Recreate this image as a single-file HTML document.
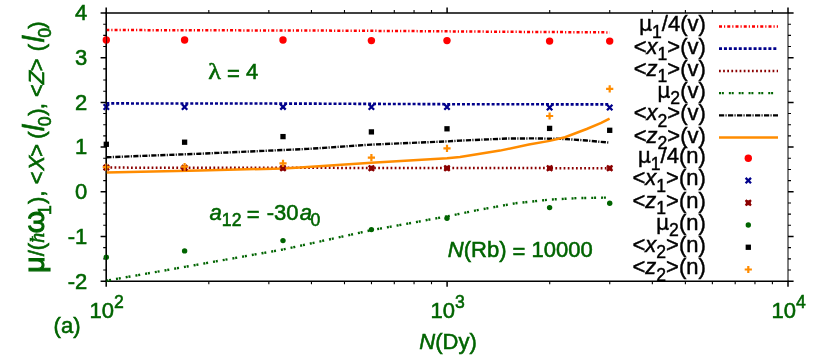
<!DOCTYPE html>
<html lang="en"><head><meta charset="utf-8"><title>Fig (a)</title>
<style>
html,body{margin:0;padding:0;background:#fff;}
body{width:830px;height:356px;overflow:hidden;}
svg{display:block;will-change:transform;}
text{font-family:"Liberation Sans",sans-serif;font-size:22px;}
.g{fill:#006400;stroke:#006400;stroke-width:0.55px;}
.k{fill:#000;stroke:#000;stroke-width:0.45px;}
.i{font-style:italic;}
.b{font-weight:bold;}
.h{stroke-width:1.1px;}
.yl{stroke-width:0.6px;}
.sym{font-family:"Liberation Serif","DejaVu Serif",serif;}
.dv{font-family:"DejaVu Sans","Liberation Sans",sans-serif;}
.dvs{font-family:"DejaVu Serif","Liberation Serif",serif;}
</style></head><body>
<svg width="830" height="356" viewBox="0 0 830 356">
<rect width="830" height="356" fill="#fff"/>
<g id="axes" fill="none" stroke="#000">
<path d="M105.40 13.00H788.50" stroke-width="1.6"/>
<path d="M105.40 281.20H788.50" stroke-width="1.6"/>
<path d="M106.20 13.00V281.20" stroke-width="1.6"/>
<path d="M788.00 13.00V281.20" stroke-width="1.0"/>
<path d="M106.20 281.20L100.60 281.20M788.00 281.20L793.60 281.20M106.20 236.50L100.60 236.50M788.00 236.50L793.60 236.50M106.20 191.80L100.60 191.80M788.00 191.80L793.60 191.80M106.20 147.10L100.60 147.10M788.00 147.10L793.60 147.10M106.20 102.40L100.60 102.40M788.00 102.40L793.60 102.40M106.20 57.70L100.60 57.70M788.00 57.70L793.60 57.70M106.20 13.00L100.60 13.00M788.00 13.00L793.60 13.00M106.20 281.20L106.20 286.80M106.20 13.00L106.20 7.40M447.10 281.20L447.10 286.80M447.10 13.00L447.10 7.40M788.00 281.20L788.00 286.80M788.00 13.00L788.00 7.40" stroke-width="1.5"/>
<path d="M106.20 270.02L103.20 270.02M788.00 270.02L791.00 270.02M106.20 258.85L103.20 258.85M788.00 258.85L791.00 258.85M106.20 247.67L103.20 247.67M788.00 247.67L791.00 247.67M106.20 225.32L103.20 225.32M788.00 225.32L791.00 225.32M106.20 214.15L103.20 214.15M788.00 214.15L791.00 214.15M106.20 202.97L103.20 202.97M788.00 202.97L791.00 202.97M106.20 180.62L103.20 180.62M788.00 180.62L791.00 180.62M106.20 169.45L103.20 169.45M788.00 169.45L791.00 169.45M106.20 158.27L103.20 158.27M788.00 158.27L791.00 158.27M106.20 135.92L103.20 135.92M788.00 135.92L791.00 135.92M106.20 124.75L103.20 124.75M788.00 124.75L791.00 124.75M106.20 113.57L103.20 113.57M788.00 113.57L791.00 113.57M106.20 91.22L103.20 91.22M788.00 91.22L791.00 91.22M106.20 80.05L103.20 80.05M788.00 80.05L791.00 80.05M106.20 68.87L103.20 68.87M788.00 68.87L791.00 68.87M106.20 46.53L103.20 46.53M788.00 46.53L791.00 46.53M106.20 35.35L103.20 35.35M788.00 35.35L791.00 35.35M106.20 24.18L103.20 24.18M788.00 24.18L791.00 24.18M208.82 281.20L208.82 284.20M208.82 13.00L208.82 10.00M268.85 281.20L268.85 284.20M268.85 13.00L268.85 10.00M311.44 281.20L311.44 284.20M311.44 13.00L311.44 10.00M344.48 281.20L344.48 284.20M344.48 13.00L344.48 10.00M371.47 281.20L371.47 284.20M371.47 13.00L371.47 10.00M394.29 281.20L394.29 284.20M394.29 13.00L394.29 10.00M414.06 281.20L414.06 284.20M414.06 13.00L414.06 10.00M431.50 281.20L431.50 284.20M431.50 13.00L431.50 10.00M549.72 281.20L549.72 284.20M549.72 13.00L549.72 10.00M609.75 281.20L609.75 284.20M609.75 13.00L609.75 10.00M652.34 281.20L652.34 284.20M652.34 13.00L652.34 10.00M685.38 281.20L685.38 284.20M685.38 13.00L685.38 10.00M712.37 281.20L712.37 284.20M712.37 13.00L712.37 10.00M735.19 281.20L735.19 284.20M735.19 13.00L735.19 10.00M754.96 281.20L754.96 284.20M754.96 13.00L754.96 10.00M772.40 281.20L772.40 284.20M772.40 13.00L772.40 10.00" stroke-width="1.1"/>
</g>
<g id="plot">
<path d="M106.3 30.0L200.0 30.3L308.0 30.5L400.0 31.0L508.0 31.8L609.7 32.4" fill="none" stroke="#ff0000" stroke-width="2.50" stroke-dasharray="3.0 2.0 1.2 2.05"/>
<path d="M106.3 103.4L300.0 103.6L450.0 104.2L609.0 104.4" fill="none" stroke="#00008b" stroke-width="2.60" stroke-dasharray="3.0 1.94"/>
<path d="M106.3 167.6L609.7 168.2" fill="none" stroke="#8b0000" stroke-width="2.50" stroke-dasharray="1.75 2.37"/>
<path d="M106.3 280.7L184.7 266.9L283.0 249.5L300.0 245.8L371.4 230.2L447.0 216.4L477.6 210.1L515.2 203.3L549.5 199.6L577.8 198.1L606.7 197.6" fill="none" stroke="#006400" stroke-width="2.40" stroke-dasharray="2.0 0.85 2.0 5.0"/>
<path d="M106.3 157.3L200.0 153.7L308.0 148.9L371.4 144.6L447.0 141.4L460.0 140.6L508.0 138.5L535.0 138.4L549.6 138.7L565.0 139.0L586.7 140.5L609.0 142.6" fill="none" stroke="#000000" stroke-width="2.40" stroke-dasharray="5.2 1.3 1.1 1.4"/>
<path d="M106.3 172.4L200.0 170.6L283.0 168.4L300.0 167.4L371.4 162.7L447.0 158.2L460.0 157.0L477.0 154.3L500.0 150.6L528.9 144.5L549.6 140.9L565.0 137.2L586.7 129.0L601.2 122.9L609.6 118.6" fill="none" stroke="#ff8c00" stroke-width="2.50"/>
<circle cx="106.3" cy="40.0" r="3.70" fill="#ff0000"/>
<circle cx="184.6" cy="40.0" r="3.70" fill="#ff0000"/>
<circle cx="283.0" cy="40.0" r="3.70" fill="#ff0000"/>
<circle cx="371.4" cy="40.6" r="3.70" fill="#ff0000"/>
<circle cx="447.0" cy="40.6" r="3.70" fill="#ff0000"/>
<circle cx="549.6" cy="41.1" r="3.70" fill="#ff0000"/>
<circle cx="609.7" cy="41.1" r="3.70" fill="#ff0000"/>
<path d="M103.60 104.30L109.00 109.70M103.60 109.70L109.00 104.30" stroke="#00008b" stroke-width="2.30" fill="none"/>
<path d="M181.90 104.30L187.30 109.70M181.90 109.70L187.30 104.30" stroke="#00008b" stroke-width="2.30" fill="none"/>
<path d="M280.30 104.20L285.70 109.60M280.30 109.60L285.70 104.20" stroke="#00008b" stroke-width="2.30" fill="none"/>
<path d="M368.70 104.30L374.10 109.70M368.70 109.70L374.10 104.30" stroke="#00008b" stroke-width="2.30" fill="none"/>
<path d="M444.30 104.30L449.70 109.70M444.30 109.70L449.70 104.30" stroke="#00008b" stroke-width="2.30" fill="none"/>
<path d="M546.90 104.80L552.30 110.20M546.90 110.20L552.30 104.80" stroke="#00008b" stroke-width="2.30" fill="none"/>
<path d="M607.00 104.80L612.40 110.20M607.00 110.20L612.40 104.80" stroke="#00008b" stroke-width="2.30" fill="none"/>
<rect x="103.80" y="165.10" width="5.00" height="5.00" fill="#8b0000"/>
<path d="M103.60 164.90L109.00 170.30M103.60 170.30L109.00 164.90" stroke="#8b0000" stroke-width="2.30" fill="none"/>
<rect x="182.10" y="165.30" width="5.00" height="5.00" fill="#8b0000"/>
<path d="M181.90 165.10L187.30 170.50M181.90 170.50L187.30 165.10" stroke="#8b0000" stroke-width="2.30" fill="none"/>
<rect x="280.50" y="165.70" width="5.00" height="5.00" fill="#8b0000"/>
<path d="M280.30 165.50L285.70 170.90M280.30 170.90L285.70 165.50" stroke="#8b0000" stroke-width="2.30" fill="none"/>
<rect x="368.90" y="165.70" width="5.00" height="5.00" fill="#8b0000"/>
<path d="M368.70 165.50L374.10 170.90M368.70 170.90L374.10 165.50" stroke="#8b0000" stroke-width="2.30" fill="none"/>
<rect x="444.50" y="165.70" width="5.00" height="5.00" fill="#8b0000"/>
<path d="M444.30 165.50L449.70 170.90M444.30 170.90L449.70 165.50" stroke="#8b0000" stroke-width="2.30" fill="none"/>
<rect x="547.10" y="165.70" width="5.00" height="5.00" fill="#8b0000"/>
<path d="M546.90 165.50L552.30 170.90M546.90 170.90L552.30 165.50" stroke="#8b0000" stroke-width="2.30" fill="none"/>
<rect x="607.20" y="165.70" width="5.00" height="5.00" fill="#8b0000"/>
<path d="M607.00 165.50L612.40 170.90M607.00 170.90L612.40 165.50" stroke="#8b0000" stroke-width="2.30" fill="none"/>
<circle cx="106.3" cy="257.2" r="2.70" fill="#006400"/>
<circle cx="184.6" cy="250.9" r="2.70" fill="#006400"/>
<circle cx="283.0" cy="240.6" r="2.70" fill="#006400"/>
<circle cx="371.4" cy="229.6" r="2.70" fill="#006400"/>
<circle cx="447.0" cy="218.2" r="2.70" fill="#006400"/>
<circle cx="549.6" cy="207.6" r="2.70" fill="#006400"/>
<circle cx="609.7" cy="203.3" r="2.70" fill="#006400"/>
<rect x="103.65" y="141.65" width="5.30" height="5.30" fill="#000000"/>
<rect x="181.95" y="139.55" width="5.30" height="5.30" fill="#000000"/>
<rect x="280.35" y="133.95" width="5.30" height="5.30" fill="#000000"/>
<rect x="368.75" y="129.25" width="5.30" height="5.30" fill="#000000"/>
<rect x="444.35" y="126.15" width="5.30" height="5.30" fill="#000000"/>
<rect x="546.95" y="125.75" width="5.30" height="5.30" fill="#000000"/>
<rect x="607.05" y="127.65" width="5.30" height="5.30" fill="#000000"/>
<path d="M102.70 167.20L109.90 167.20M106.30 163.60L106.30 170.80" stroke="#ff8c00" stroke-width="2.20" fill="none"/>
<path d="M181.00 166.60L188.20 166.60M184.60 163.00L184.60 170.20" stroke="#ff8c00" stroke-width="2.20" fill="none"/>
<path d="M279.40 163.40L286.60 163.40M283.00 159.80L283.00 167.00" stroke="#ff8c00" stroke-width="2.20" fill="none"/>
<path d="M367.80 157.70L375.00 157.70M371.40 154.10L371.40 161.30" stroke="#ff8c00" stroke-width="2.20" fill="none"/>
<path d="M443.40 148.40L450.60 148.40M447.00 144.80L447.00 152.00" stroke="#ff8c00" stroke-width="2.20" fill="none"/>
<path d="M546.00 116.00L553.20 116.00M549.60 112.40L549.60 119.60" stroke="#ff8c00" stroke-width="2.20" fill="none"/>
<path d="M606.10 88.90L613.30 88.90M609.70 85.30L609.70 92.50" stroke="#ff8c00" stroke-width="2.20" fill="none"/>
<path d="M719.0 26.4L778.0 26.4" fill="none" stroke="#ff0000" stroke-width="2.50" stroke-dasharray="3.0 2.0 1.2 2.05"/>
<path d="M719.0 48.6L778.0 48.6" fill="none" stroke="#00008b" stroke-width="2.60" stroke-dasharray="3.0 1.94"/>
<path d="M719.0 70.9L778.0 70.9" fill="none" stroke="#8b0000" stroke-width="2.50" stroke-dasharray="1.75 2.37"/>
<path d="M719.0 93.1L778.0 93.1" fill="none" stroke="#006400" stroke-width="2.40" stroke-dasharray="2.0 0.85 2.0 5.0"/>
<path d="M719.0 115.4L778.0 115.4" fill="none" stroke="#000000" stroke-width="2.40" stroke-dasharray="5.2 1.3 1.1 1.4"/>
<path d="M719.0 137.6L778.0 137.6" fill="none" stroke="#ff8c00" stroke-width="2.50"/>
<circle cx="748.3" cy="158.3" r="3.70" fill="#ff0000"/>
<path d="M745.60 177.84L751.00 183.24M745.60 183.24L751.00 177.84" stroke="#00008b" stroke-width="2.30" fill="none"/>
<rect x="745.80" y="200.28" width="5.00" height="5.00" fill="#8b0000"/>
<path d="M745.60 200.08L751.00 205.48M745.60 205.48L751.00 200.08" stroke="#8b0000" stroke-width="2.30" fill="none"/>
<circle cx="748.3" cy="225.0" r="2.70" fill="#006400"/>
<rect x="745.65" y="244.61" width="5.30" height="5.30" fill="#000000"/>
<path d="M744.70 269.50L751.90 269.50M748.30 265.90L748.30 273.10" stroke="#ff8c00" stroke-width="2.20" fill="none"/>
</g>
<path d="M106.50 13.00V281.20" fill="none" stroke="#000" stroke-width="0.8" stroke-opacity="0.8"/>
<g id="labels">
<text class="g" x="87.20" y="288.50" text-anchor="end"><tspan>-2</tspan></text>
<text class="g" x="87.20" y="243.80" text-anchor="end"><tspan>-1</tspan></text>
<text class="g" x="87.20" y="199.10" text-anchor="end"><tspan>0</tspan></text>
<text class="g" x="87.20" y="154.40" text-anchor="end"><tspan>1</tspan></text>
<text class="g" x="87.20" y="109.70" text-anchor="end"><tspan>2</tspan></text>
<text class="g" x="87.20" y="65.00" text-anchor="end"><tspan>3</tspan></text>
<text class="g" x="87.20" y="20.30" text-anchor="end"><tspan>4</tspan></text>
<text class="g" x="89.60" y="317.60"><tspan>10</tspan><tspan dy="-9.30" font-size="17.6">2</tspan></text>
<text class="g" x="430.50" y="317.60"><tspan>10</tspan><tspan dy="-9.30" font-size="17.6">3</tspan></text>
<text class="g" x="771.40" y="317.60"><tspan>10</tspan><tspan dy="-9.30" font-size="17.6">4</tspan></text>
<text class="g" x="419.30" y="349.40"><tspan class="i">N</tspan><tspan>(Dy)</tspan></text>
<text class="g" x="53.60" y="333.20"><tspan>(a)</tspan></text>
<text class="g sym" style="font-size:23.2px" transform="translate(208.3 79.0) scale(1.13 1)">&#955;</text>
<text class="g" x="226.90" y="78.90"><tspan x="226.90" dy="1.70">=</tspan><tspan x="246.10" dy="-1.70">4</tspan></text>
<text class="g" x="209.60" y="219.90"><tspan class="i">a</tspan><tspan dy="6.30" font-size="17.6">12</tspan><tspan x="246.80" dy="-4.10">=</tspan><tspan x="266.70" dy="-2.20">-30</tspan><tspan x="299.70" class="i">a</tspan><tspan x="310.60" dy="6.30" font-size="17.6">0</tspan></text>
<text class="g" x="447.80" y="257.20"><tspan class="i">N</tspan><tspan>(Rb)</tspan><tspan x="512.60" dy="2.20">=</tspan><tspan x="531.60" dy="-2.20">10000</tspan></text>
<text class="g yl" transform="translate(44.3 272.2) rotate(-90)"><tspan x="-0.60" font-size="28.5" class="h">&#956;</tspan><tspan x="15.90">/</tspan><tspan x="22.00">(</tspan><tspan x="29.30" font-size="20.5" class="sym i">&#295;</tspan><tspan x="38.90" font-size="28.5" class="h">&#969;</tspan><tspan x="57.20" dy="6.30" font-size="17.6">1</tspan><tspan x="68.20" dy="-6.30">)</tspan><tspan x="75.50">,</tspan><tspan x="88.00">&lt;</tspan><tspan x="101.60" class="i">X</tspan><tspan x="115.40">&gt;</tspan><tspan x="133.50">(</tspan><tspan x="141.00" font-size="29" class="i">l</tspan><tspan x="146.00" dy="6.30" font-size="17.6">0</tspan><tspan x="156.50" dy="-6.30">)</tspan><tspan x="163.00">,</tspan><tspan x="175.20">&lt;</tspan><tspan x="187.90" class="i">Z</tspan><tspan x="201.00">&gt;</tspan><tspan x="221.00">(</tspan><tspan x="229.80" font-size="29" class="i">l</tspan><tspan x="234.50" dy="6.30" font-size="17.6">0</tspan><tspan x="243.50" dy="-6.30">)</tspan></text>
<text class="k" x="705.80" y="31.30" text-anchor="end"><tspan font-size="20.5" class="dv">&#956;</tspan><tspan dy="6.30" font-size="17.6">1</tspan><tspan dy="-6.30" font-size="22">/4(v)</tspan></text>
<text class="k" x="705.80" y="53.54" text-anchor="end"><tspan font-size="22">&lt;</tspan><tspan font-size="22" class="i">x</tspan><tspan dy="6.30" font-size="17.6">1</tspan><tspan dy="-6.30" font-size="22">&gt;</tspan><tspan font-size="22">(v)</tspan></text>
<text class="k" x="705.80" y="75.78" text-anchor="end"><tspan font-size="22">&lt;</tspan><tspan font-size="22" class="i">z</tspan><tspan dy="6.30" font-size="17.6">1</tspan><tspan dy="-6.30" font-size="22">&gt;</tspan><tspan font-size="22">(v)</tspan></text>
<text class="k" x="705.80" y="98.02" text-anchor="end"><tspan font-size="20.5" class="dv">&#956;</tspan><tspan dy="6.30" font-size="17.6">2</tspan><tspan dy="-6.30" font-size="22">(v)</tspan></text>
<text class="k" x="705.80" y="120.26" text-anchor="end"><tspan font-size="22">&lt;</tspan><tspan font-size="22" class="i">x</tspan><tspan dy="6.30" font-size="17.6">2</tspan><tspan dy="-6.30" font-size="22">&gt;</tspan><tspan font-size="22">(v)</tspan></text>
<text class="k" x="705.80" y="142.50" text-anchor="end"><tspan font-size="22">&lt;</tspan><tspan font-size="22" class="i">z</tspan><tspan dy="6.30" font-size="17.6">2</tspan><tspan dy="-6.30" font-size="22">&gt;</tspan><tspan font-size="22">(v)</tspan></text>
<text class="k" x="705.80" y="163.20" text-anchor="end"><tspan font-size="20.5" class="dv">&#956;</tspan><tspan dy="6.30" font-size="17.6">1</tspan><tspan dy="-6.30" font-size="22">/4(n)</tspan></text>
<text class="k" x="705.80" y="185.44" text-anchor="end"><tspan font-size="22">&lt;</tspan><tspan font-size="22" class="i">x</tspan><tspan dy="6.30" font-size="17.6">1</tspan><tspan dy="-6.30" font-size="22">&gt;</tspan><tspan font-size="22">(n)</tspan></text>
<text class="k" x="705.80" y="207.68" text-anchor="end"><tspan font-size="22">&lt;</tspan><tspan font-size="22" class="i">z</tspan><tspan dy="6.30" font-size="17.6">1</tspan><tspan dy="-6.30" font-size="22">&gt;</tspan><tspan font-size="22">(n)</tspan></text>
<text class="k" x="705.80" y="229.92" text-anchor="end"><tspan font-size="20.5" class="dv">&#956;</tspan><tspan dy="6.30" font-size="17.6">2</tspan><tspan dy="-6.30" font-size="22">(n)</tspan></text>
<text class="k" x="705.80" y="252.16" text-anchor="end"><tspan font-size="22">&lt;</tspan><tspan font-size="22" class="i">x</tspan><tspan dy="6.30" font-size="17.6">2</tspan><tspan dy="-6.30" font-size="22">&gt;</tspan><tspan font-size="22">(n)</tspan></text>
<text class="k" x="705.80" y="274.40" text-anchor="end"><tspan font-size="22">&lt;</tspan><tspan font-size="22" class="i">z</tspan><tspan dy="6.30" font-size="17.6">2</tspan><tspan dy="-6.30" font-size="22">&gt;</tspan><tspan font-size="22">(n)</tspan></text>
</g>
</svg></body></html>
